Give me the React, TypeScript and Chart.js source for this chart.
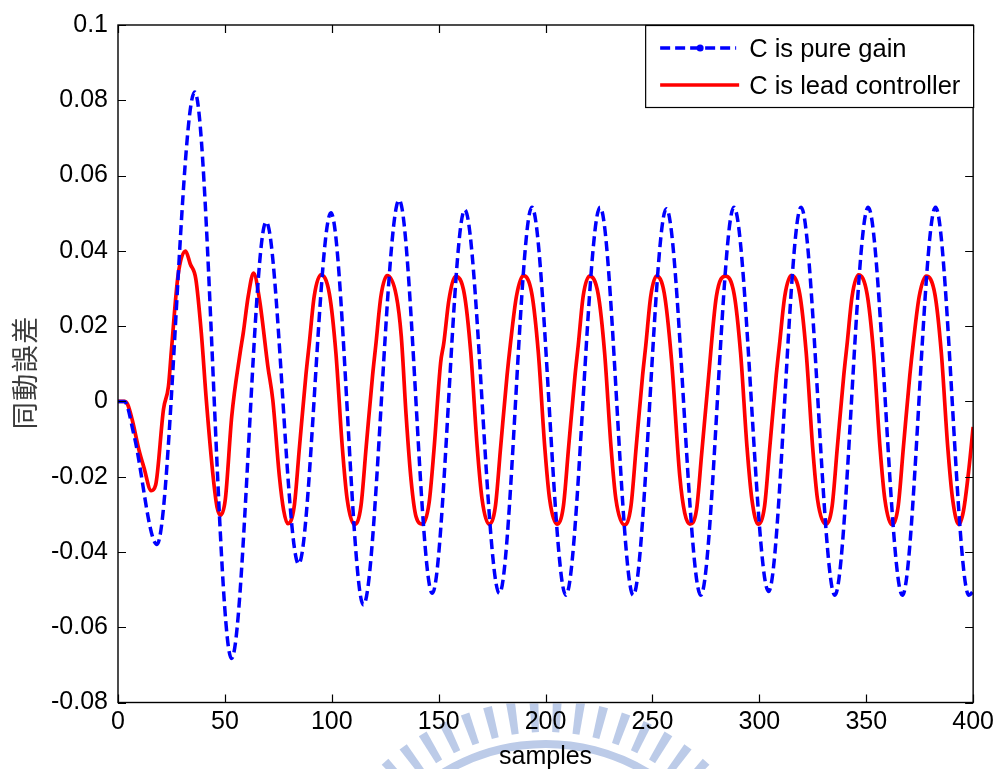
import React, { useEffect, useRef } from "react";
import { Chart, registerables } from "chart.js";

Chart.register(...registerables);

const seriesNames = ["C is pure gain", "C is lead controller"];
const xTitle = "samples";
const yTitle = "同動誤差";
const xTickValues = [0, 50, 100, 150, 200, 250, 300, 350, 400];
const yTickValues = [-0.08, -0.06, -0.04, -0.02, 0, 0.02, 0.04, 0.06, 0.08, 0.1];

const blueX = [0, 3, 7.5, 18.2, 35.9, 53.1, 69.3, 84.5, 99.6, 114.8, 131.5, 147.0, 162.2, 178.4, 193.6, 209.5, 225.5, 241.0, 256.5, 272.6, 288.1, 304.3, 319.5, 335.3, 350.9, 366.9, 382.4, 398.0, 400];
const blueY = [0, 0, -0.009, -0.038, 0.0822, -0.0683, 0.0477, -0.0432, 0.0501, -0.0541, 0.0535, -0.051, 0.0509, -0.051, 0.0516, -0.0515, 0.0516, -0.0515, 0.0512, -0.0515, 0.0516, -0.0505, 0.0516, -0.0515, 0.0516, -0.0515, 0.0516, -0.0515, -0.0505];

// C is lead controller (red solid)
const redX = [
  0, 3, 4.5, 6.7, 9.8, 12.1, 15.5, 17.6, 21.3, 23.6, 25.0, 28.1, 31.6,
  33.8, 36.4, 39.0, 41.3, 44.5, 46.3, 48.0,
  50.2, 53.2, 57.1, 58.6, 60.9, 63.4,
  66.2, 70.1, 72.4, 75.5, 77.5, 79.4,
  82.4, 84.9, 87.9, 89.4, 91.8, 94.9,
  98.9, 101.9, 104.9, 107.2, 110.6,
  113.6, 116.1, 119.1, 120.6, 123.0, 125.9,
  130.2, 132.5, 134.8, 137.1, 139.4, 142.4,
  145.5, 147.8, 150.9, 152.4, 154.8, 158.0,
  162.0, 165.0, 168.0, 170.3, 173.5,
  176.5, 179.0, 182.0, 183.5, 186.4, 189.6,
  193.6, 196.6, 199.6, 201.9, 205.3,
  208.3, 210.8, 213.8, 215.3, 217.6, 220.6,
  224.6, 227.6, 230.6, 232.9, 236.9,
  239.9, 242.4, 245.4, 246.9, 249.2, 251.9,
  255.5, 258.9, 262.8, 265.1, 267.5,
  270.6, 273.0, 276.0, 279.9, 284.2,
  288.2, 291.2, 294.2, 296.5, 299.4,
  302.4, 304.9, 307.9, 309.4, 311.9, 314.9,
  318.9, 321.9, 324.9, 327.2, 331.0,
  334.0, 336.5, 339.5, 341.0, 343.4, 346.4,
  350.4, 353.4, 356.4, 358.7, 361.9,
  364.9, 367.4, 370.4, 371.9, 374.8, 378.1,
  382.1, 385.1, 388.1, 390.4, 393.3,
  395.5, 398.0, 400
];
const redY = [
  0, 0, -0.0008, -0.005, -0.0129, -0.0175, -0.0237, -0.0222, -0.002, 0.004, 0.0137, 0.0335, 0.0399,
  0.0365, 0.0325, 0.018, 0.0004, -0.02, -0.028, -0.0302,
  -0.026, -0.004, 0.0128, 0.0182, 0.0279, 0.0341,
  0.027, 0.0093, 0.0004, -0.02, -0.029, -0.0325,
  -0.028, -0.012, 0.007, 0.015, 0.028, 0.0336,
  0.0285, 0.013, -0.012, -0.026, -0.0327,
  -0.028, -0.012, 0.007, 0.015, 0.028, 0.0334,
  0.028, 0.0173, -0.004, -0.021, -0.0306, -0.0326,
  -0.027, -0.0129, 0.0102, 0.0155, 0.027, 0.0332,
  0.0285, 0.013, -0.012, -0.026, -0.0326,
  -0.028, -0.012, 0.007, 0.015, 0.028, 0.0334,
  0.0285, 0.013, -0.012, -0.026, -0.0326,
  -0.028, -0.012, 0.007, 0.015, 0.028, 0.0333,
  0.0285, 0.013, -0.012, -0.026, -0.0328,
  -0.028, -0.012, 0.007, 0.015, 0.028, 0.0333,
  0.0288, 0.0111, -0.02, -0.0297, -0.0326,
  -0.0288, -0.014, 0.0049, 0.0279, 0.0333,
  0.0285, 0.013, -0.012, -0.026, -0.0326,
  -0.028, -0.012, 0.007, 0.015, 0.028, 0.0334,
  0.0285, 0.013, -0.012, -0.026, -0.0326,
  -0.028, -0.012, 0.007, 0.015, 0.028, 0.0336,
  0.0285, 0.013, -0.012, -0.026, -0.0327,
  -0.028, -0.012, 0.007, 0.015, 0.028, 0.0333,
  0.0285, 0.013, -0.012, -0.026, -0.0327,
  -0.029, -0.018, -0.0068
];

const FONT = "'Liberation Sans', Arial, sans-serif";
const BLUE = "#0000ff";
const RED = "#ff0000";
const WM = "#bccbe8";

const fmtY = (v: number) => {
  const r = Math.round(v * 100) / 100;
  return r === 0 ? "0" : String(r);
};

const decorPlugin = {
  id: "matlabDecor",
  beforeDraw(chart: any) {
    // faint watermark below the axes
    const { ctx, chartArea } = chart;
    ctx.save();
    ctx.beginPath();
    ctx.rect(0, chartArea.bottom + 1, chart.width, chart.height);
    ctx.clip();
    const cx = (chartArea.left + chartArea.right) / 2;
    const cy = 940;
    ctx.fillStyle = WM;
    for (let a = -160; a <= -20; a += 5.6) {
      const t = (a * Math.PI) / 180;
      const w = 0.017;
      ctx.beginPath();
      ctx.moveTo(cx + 208 * Math.cos(t - w), cy + 208 * Math.sin(t - w));
      ctx.lineTo(cx + 240 * Math.cos(t - w * 1.1), cy + 240 * Math.sin(t - w * 1.1));
      ctx.lineTo(cx + 240 * Math.cos(t + w * 1.1), cy + 240 * Math.sin(t + w * 1.1));
      ctx.lineTo(cx + 208 * Math.cos(t + w), cy + 208 * Math.sin(t + w));
      ctx.closePath();
      ctx.fill();
    }
    ctx.lineWidth = 8;
    ctx.strokeStyle = WM;
    ctx.beginPath();
    ctx.arc(cx, cy, 196, Math.PI * 1.08, Math.PI * 1.92);
    ctx.stroke();
    ctx.restore();
  },
  afterDraw(chart: any) {
    const { ctx, chartArea } = chart;
    const xs = chart.scales.x;
    const ys = chart.scales.y;
    const L = chartArea.left, R = chartArea.right, T = chartArea.top, B = chartArea.bottom;
    ctx.save();
    // box
    ctx.strokeStyle = "#000";
    ctx.lineWidth = 1.4;
    ctx.strokeRect(L, T, R - L, B - T);
    // inward ticks on all four sides
    const tl = 8;
    ctx.lineWidth = 1.2;
    ctx.beginPath();
    xTickValues.forEach((v) => {
      const px = Math.round(xs.getPixelForValue(v)) + 0.5;
      ctx.moveTo(px, B);
      ctx.lineTo(px, B - tl);
      ctx.moveTo(px, T);
      ctx.lineTo(px, T + tl);
    });
    yTickValues.forEach((v) => {
      const py = Math.round(ys.getPixelForValue(v)) + 0.5;
      ctx.moveTo(L, py);
      ctx.lineTo(L + tl, py);
      ctx.moveTo(R, py);
      ctx.lineTo(R - tl, py);
    });
    ctx.stroke();

    // axis titles
    ctx.fillStyle = "#000";
    ctx.font = `25px ${FONT}`;
    ctx.textAlign = "center";
    ctx.textBaseline = "alphabetic";
    ctx.fillText(xTitle, (L + R) / 2, 764);

    ctx.save();
    ctx.translate(25, 373);
    ctx.rotate(-Math.PI / 2);
    ctx.font = "27px 'Noto Sans CJK TC', 'Noto Sans CJK SC', sans-serif";
    ctx.fillStyle = "#3a3a3a";
    ctx.textBaseline = "middle";
    ctx.textAlign = "center";
    const chars = Array.from(yTitle);
    const step = 28.5;
    chars.forEach((c, i) => {
      ctx.fillText(c, (i - (chars.length - 1) / 2) * step, 0);
    });
    ctx.restore();

    // legend
    const lx = R - 328, ly = T, lw = 328, lh = 82;
    ctx.fillStyle = "#fff";
    ctx.fillRect(lx, ly, lw, lh);
    ctx.strokeStyle = "#000";
    ctx.lineWidth = 1.2;
    ctx.strokeRect(lx + 0.5, ly + 0.5, lw, lh);

    const y1 = ly + 23, y2 = ly + 60;
    ctx.lineWidth = 3.5;
    ctx.strokeStyle = BLUE;
    ctx.setLineDash([10, 5]);
    ctx.beginPath();
    ctx.moveTo(lx + 15, y1);
    ctx.lineTo(lx + 91, y1);
    ctx.stroke();
    ctx.setLineDash([]);
    ctx.fillStyle = BLUE;
    ctx.beginPath();
    ctx.arc(lx + 55, y1, 3.5, 0, Math.PI * 2);
    ctx.fill();

    ctx.strokeStyle = RED;
    ctx.beginPath();
    ctx.moveTo(lx + 15, y2);
    ctx.lineTo(lx + 94, y2);
    ctx.stroke();

    ctx.fillStyle = "#000";
    ctx.font = `25.5px ${FONT}`;
    ctx.textAlign = "left";
    ctx.textBaseline = "alphabetic";
    ctx.fillText(seriesNames[0], lx + 104, ly + 32);
    ctx.fillText(seriesNames[1], lx + 104, ly + 69);
    ctx.restore();
  },
};

export default function App() {
  const ref = useRef<HTMLCanvasElement | null>(null);

  useEffect(() => {
    document.body.style.margin = "0";
    const canvas = ref.current;
    if (!canvas) return;
    const blueData = blueX.map((x, i) => ({ x, y: blueY[i] }));
    const redData = redX.map((x, i) => ({ x, y: redY[i] }));
    const chart = new Chart(canvas, {
      type: "line",
      data: {
        datasets: [
          {
            label: seriesNames[0],
            data: blueData,
            borderColor: BLUE,
            backgroundColor: BLUE,
            borderWidth: 3.5,
            borderDash: [10, 5],
            pointRadius: 0,
            cubicInterpolationMode: "monotone",
            fill: false,
          },
          {
            label: seriesNames[1],
            data: redData,
            borderColor: RED,
            backgroundColor: RED,
            borderWidth: 3.7,
            pointRadius: 0,
            cubicInterpolationMode: "monotone",
            fill: false,
          },
        ],
      },
      options: {
        animation: false,
        responsive: false,
        maintainAspectRatio: false,
        layout: { padding: { top: 25, right: 23, left: 0, bottom: 0 } },
        plugins: {
          legend: { display: false },
          tooltip: { enabled: false },
        },
        scales: {
          x: {
            type: "linear",
            min: 0,
            max: 400,
            afterBuildTicks: (s: any) => {
              s.ticks = xTickValues.map((v) => ({ value: v }));
            },
            ticks: {
              color: "#000",
              font: { family: FONT, size: 25 },
              padding: 5,
              maxRotation: 0,
              autoSkip: false,
            },
            grid: { display: false, drawTicks: false },
            border: { display: false },
            afterFit: (s: any) => {
              s.height = 66.5;
            },
          },
          y: {
            type: "linear",
            min: -0.08,
            max: 0.1,
            afterBuildTicks: (s: any) => {
              s.ticks = yTickValues.map((v) => ({ value: v }));
            },
            ticks: {
              color: "#000",
              font: { family: FONT, size: 25 },
              padding: 10,
              autoSkip: false,
              callback: (v: any) => fmtY(Number(v)),
            },
            grid: { display: false, drawTicks: false },
            border: { display: false },
            afterFit: (s: any) => {
              s.width = 118;
            },
          },
        },
      },
      plugins: [decorPlugin],
    });
    return () => chart.destroy();
  }, []);

  return (
    <div style={{ position: "absolute", left: 0, top: 0, width: 999, height: 769, background: "#fff" }}>
      <canvas ref={ref} width={999} height={769} style={{ display: "block" }} />
    </div>
  );
}
